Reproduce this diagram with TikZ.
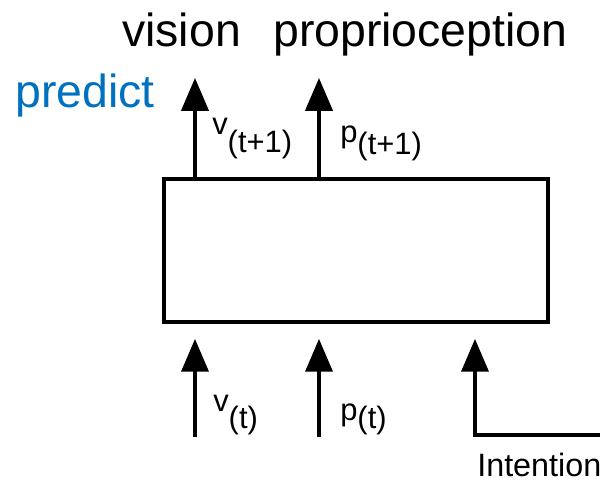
\documentclass[tikz,border=0pt]{standalone}
\usepackage{fontspec}
\setmainfont{Liberation Sans}
\usetikzlibrary{arrows.meta, positioning, calc}
\definecolor{azulPredict}{HTML}{0070C0}

\begin{document}
\begin{tikzpicture}[
    caja/.style={draw, line width=2.5pt, minimum width=9.6cm, minimum height=3.58cm, inner sep=0pt},
    flecha/.style={-{Triangle[length=0.82cm, width=0.68cm]}, line width=2.3pt},
    grande/.style={font=\fontsize{33}{39}\selectfont, inner sep=0pt, anchor=base west},
    etiq/.style={font=\fontsize{22}{26}\selectfont, inner sep=0pt, anchor=base west}]
    \useasboundingbox (0,0) rectangle (15,12.05);
    \node[caja] (modelo) at (8.9,5.79) {};
    % salidas predichas
    \coordinate (vsal) at (4.875,10.1);
    \coordinate (psal) at (7.975,10.1);
    \draw[flecha] (vsal |- modelo.north) -- (vsal);
    \draw[flecha] (psal |- modelo.north) -- (psal);
    % entradas
    \coordinate (vent) at (4.875,1.125);
    \coordinate (pent) at (7.975,1.125);
    \coordinate (ient) at (15,1.175);
    \coordinate (iesq) at (11.875,1.175);
    \draw[flecha, shorten >=0.38cm] (vent) -- (vent |- modelo.south);
    \draw[flecha, shorten >=0.38cm] (pent) -- (pent |- modelo.south);
    \draw[flecha, shorten >=0.38cm] (ient) -- (iesq) -- (iesq |- modelo.south);
    % textos
    \node[grande] (vision) at (3.05,10.875) {vision};
    \node[grande] (propio) at (6.825,10.875) {proprioception};
    \node[grande, text=azulPredict] (predict) at (0.375,9.35) {predict};
    \node[etiq] (vt1) at (5.3,8.675) {v\raisebox{-0.45cm}{(t+1)}};
    \node[etiq] (pt1) at (8.5,8.475) {p\raisebox{-0.3cm}{(t+1)}};
    \node[etiq] (vt) at (5.325,1.75) {v\raisebox{-0.425cm}{(t)}};
    \node[etiq] (pt) at (8.5,1.525) {p\raisebox{-0.2cm}{(t)}};
    \node[etiq, font=\fontsize{23}{27}\selectfont] (intencion) at (11.925,0.125) {Intention};
\end{tikzpicture}
\end{document}
